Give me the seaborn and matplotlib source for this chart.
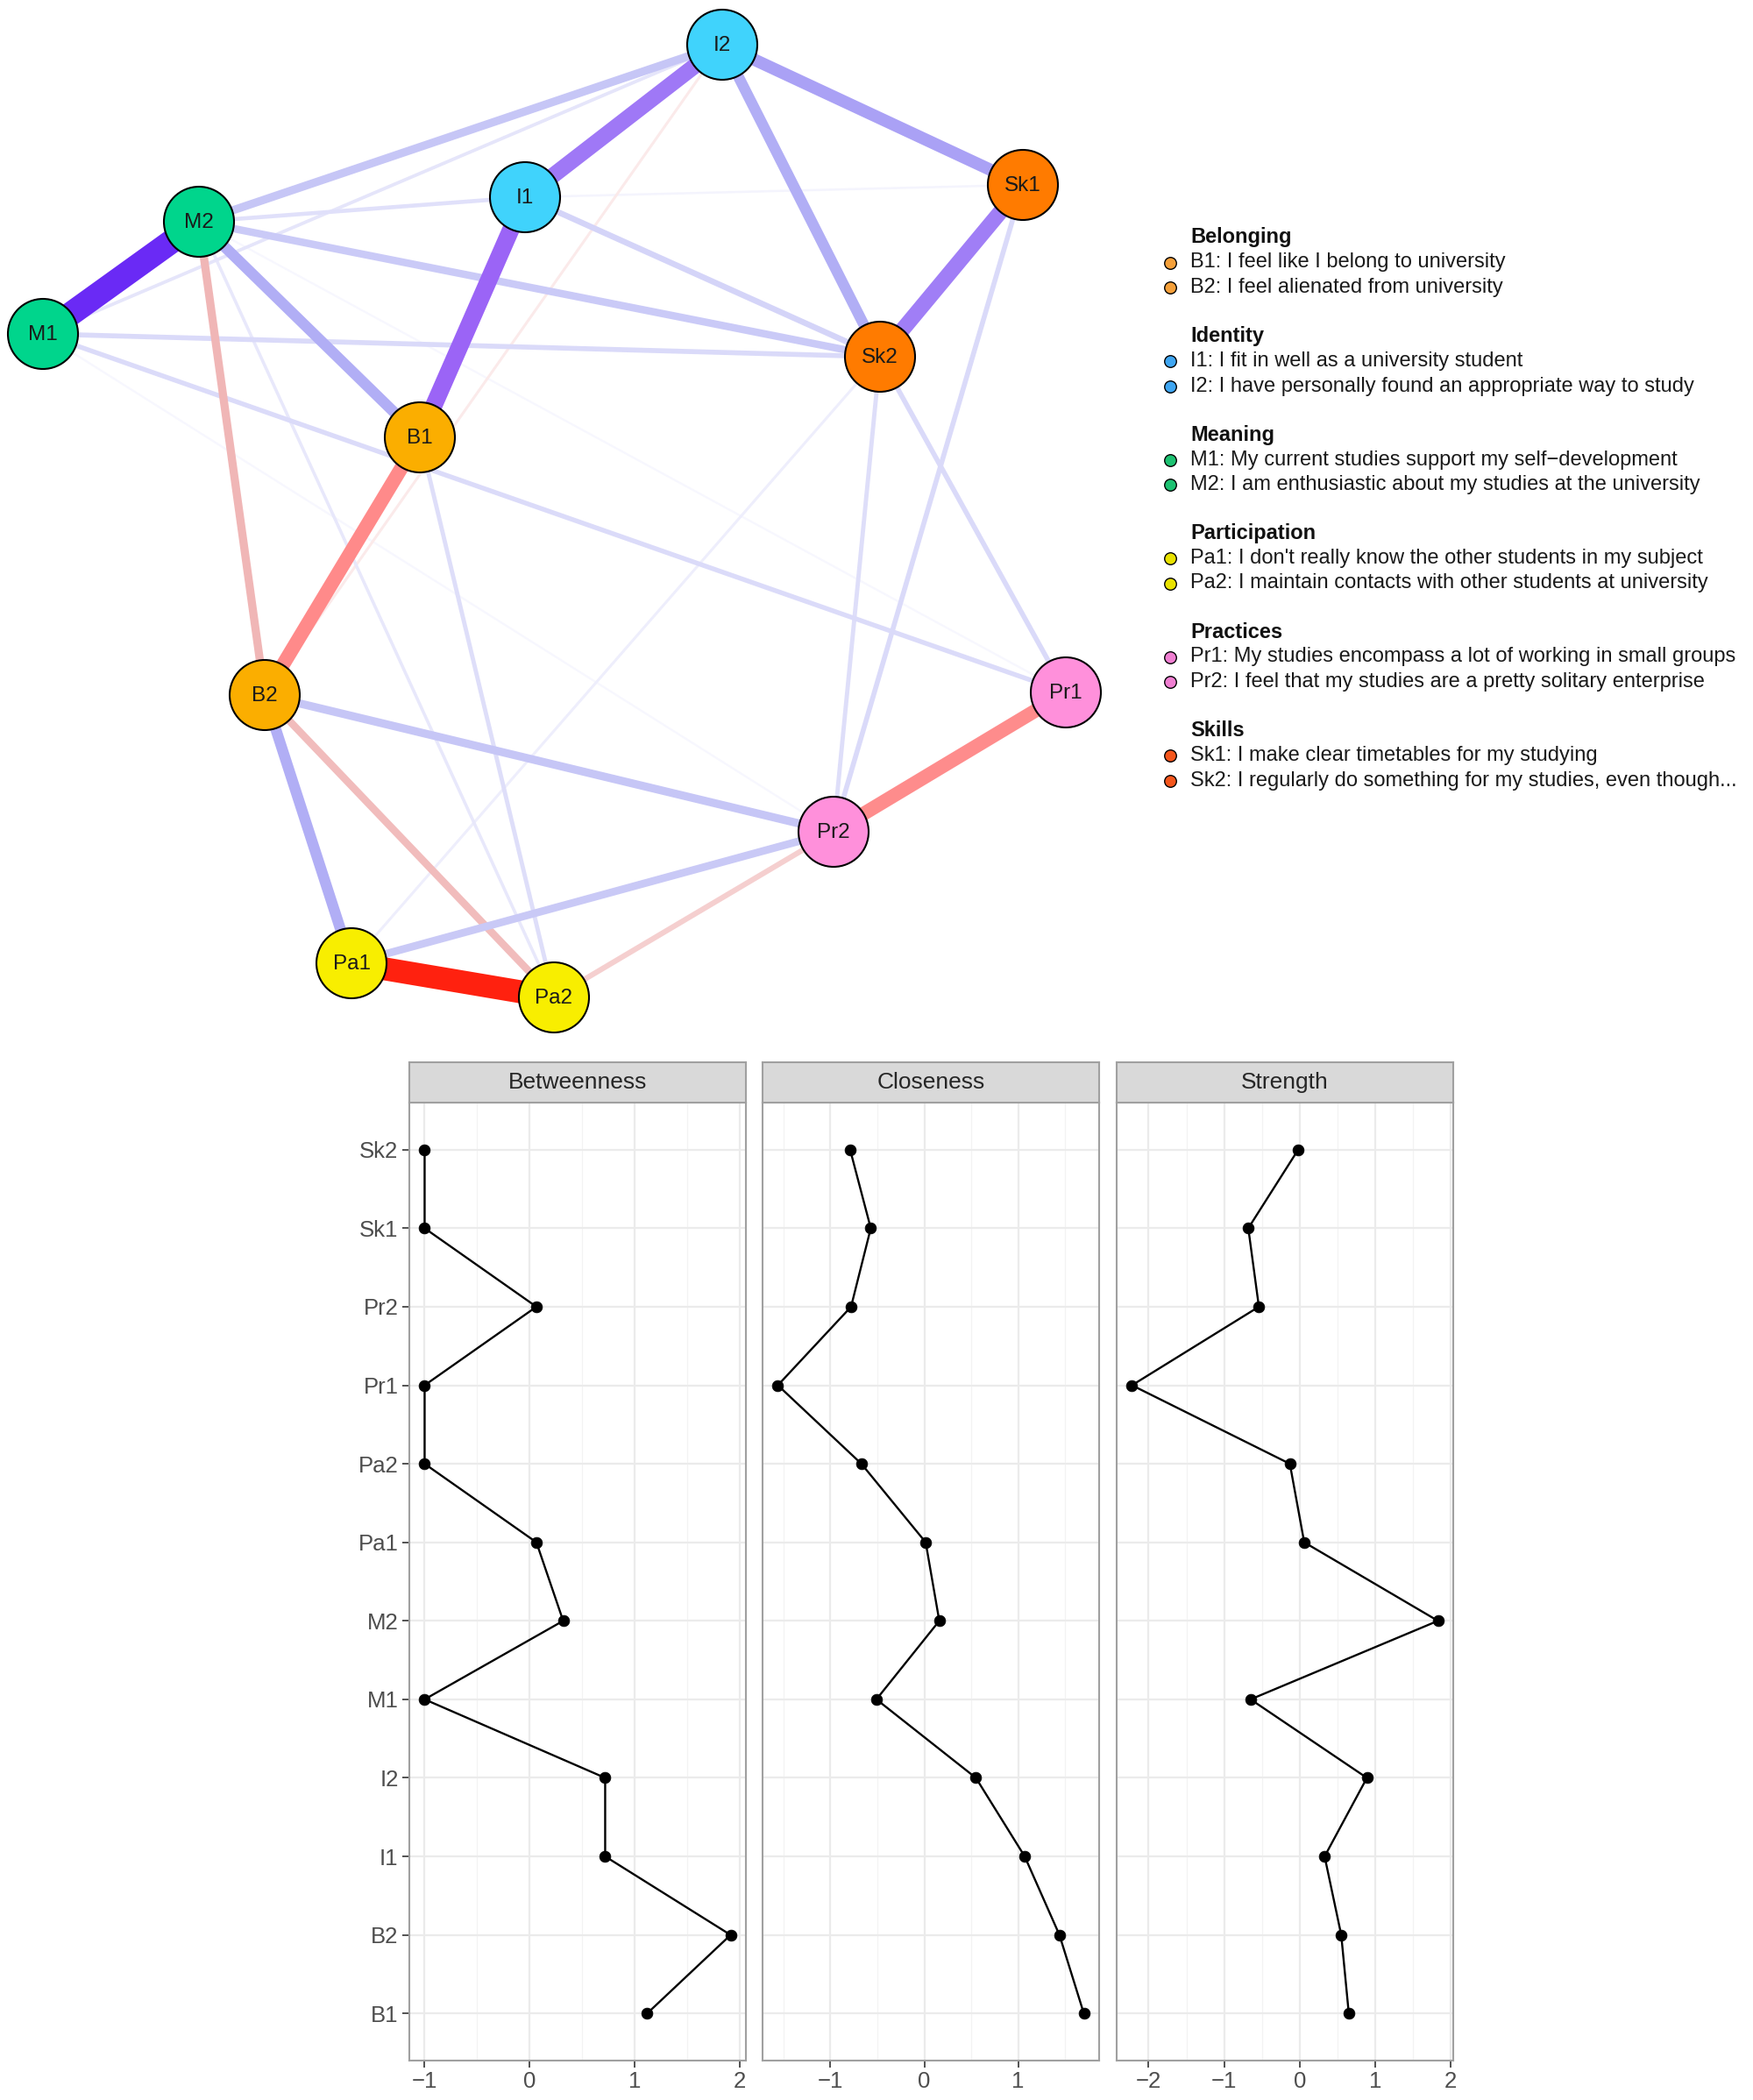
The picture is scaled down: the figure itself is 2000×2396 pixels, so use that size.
import numpy as np
import pandas as pd
import matplotlib
matplotlib.use('Agg')
import matplotlib.pyplot as plt
from matplotlib.colors import LinearSegmentedColormap
from matplotlib.patches import Circle
import seaborn as sns

# ---------------- data ----------------
nodes = ['B1', 'B2', 'I1', 'I2', 'M1', 'M2', 'Pa1', 'Pa2', 'Pr1', 'Pr2', 'Sk1', 'Sk2']
node_x = [479, 302, 599, 824, 49, 227, 401, 632, 1216, 951, 1167, 1004]
node_y = [499, 793, 225, 51, 381, 253, 1099, 1138, 790, 949, 211, 407]
node_group = ['Belonging', 'Belonging', 'Identity', 'Identity', 'Meaning', 'Meaning',
              'Participation', 'Participation', 'Practices', 'Practices', 'Skills', 'Skills']

edge_from = ['M1', 'Pa1', 'I1', 'I1', 'Sk1', 'B1', 'Pr1', 'I2', 'I2', 'M2', 'B2',
             'M2', 'B2', 'M2', 'Pa1', 'B2', 'M2', 'I1', 'Pa2', 'M1', 'M1', 'Sk1',
             'Sk2', 'Sk2', 'B1', 'M2', 'M1', 'M2', 'Sk2', 'I2', 'I1', 'M1', 'M2']
edge_to = ['M2', 'Pa2', 'B1', 'I2', 'Sk2', 'B2', 'Pr2', 'Sk1', 'Sk2', 'B1', 'Pa1',
           'B2', 'Pr2', 'I2', 'Pr2', 'Pa2', 'Sk2', 'Sk2', 'Pr2', 'Sk2', 'Pr1', 'Pr2',
           'Pr1', 'Pr2', 'Pa2', 'I1', 'I2', 'Pa2', 'Pa1', 'B2', 'Sk1', 'Pr2', 'Pr1']
edge_weight = [1.00, -0.95, 0.70, 0.64, 0.62, -0.56, -0.55, 0.48, 0.42, 0.42, 0.42,
               -0.30, 0.30, 0.30, 0.28, -0.27, 0.27, 0.20, -0.18, 0.16, 0.15, 0.16,
               0.16, 0.13, 0.13, 0.12, 0.09, 0.08, 0.06, -0.06, 0.04, 0.03, 0.03]

groups = ['Belonging', 'Identity', 'Meaning', 'Participation', 'Practices', 'Skills']
legend_items = [
    ['B1: I feel like I belong to university', 'B2: I feel alienated from university'],
    ['I1: I fit in well as a university student', 'I2: I have personally found an appropriate way to study'],
    ['M1: My current studies support my self\u2212development', 'M2: I am enthusiastic about my studies at the university'],
    ["Pa1: I don't really know the other students in my subject", 'Pa2: I maintain contacts with other students at university'],
    ['Pr1: My studies encompass a lot of working in small groups', 'Pr2: I feel that my studies are a pretty solitary enterprise'],
    ['Sk1: I make clear timetables for my studying', 'Sk2: I regularly do something for my studies, even though...'],
]

measures = ['Betweenness', 'Closeness', 'Strength']
centrality_nodes = ['B1', 'B2', 'I1', 'I2', 'M1', 'M2', 'Pa1', 'Pa2', 'Pr1', 'Pr2', 'Sk1', 'Sk2']
betweenness = [1.12, 1.915, 0.72, 0.72, -1.0, 0.32, 0.065, -1.0, -1.0, 0.065, -1.0, -1.0]
closeness = [1.70, 1.44, 1.07, 0.55, -0.51, 0.16, 0.015, -0.67, -1.56, -0.78, -0.57, -0.79]
strength = [0.65, 0.55, 0.33, 0.89, -0.65, 1.83, 0.06, -0.13, -2.22, -0.54, -0.68, -0.02]

# ---------------- style ----------------
sns.set_theme(style='white')
plt.rcParams['font.family'] = ['Liberation Sans', 'DejaVu Sans']

group_node_color = {'Belonging': '#FBAE00', 'Identity': '#40D3FC', 'Meaning': '#00D58C',
                    'Participation': '#F8EE00', 'Practices': '#FF90DB', 'Skills': '#FF7B00'}
group_legend_color = {'Belonging': '#F5A03A', 'Identity': '#3FA6F2', 'Meaning': '#1DC272',
                      'Participation': '#E9E200', 'Practices': '#F07FD2', 'Skills': '#F5561C'}

pos_cmap = LinearSegmentedColormap.from_list('pos', [
    (0.0, '#ffffff'), (0.1, '#e2e2fa'), (0.3, '#c6c6f6'), (0.45, '#aca8f5'),
    (0.62, '#a07ef6'), (0.72, '#9a5ef6'), (1.0, '#6a2af5')])
neg_cmap = LinearSegmentedColormap.from_list('neg', [
    (0.0, '#ffffff'), (0.08, '#f9e2e2'), (0.18, '#f5cfcf'), (0.3, '#f0b6b6'),
    (0.56, '#ff8a8a'), (1.0, '#ff1400')])

W, H = 2000, 2396
fig = plt.figure(figsize=(W / 100, H / 100), dpi=100)
fig.patch.set_facecolor('white')

# ---------------- network ----------------
net = fig.add_axes([0, 0, 1, 1])
net.set_xlim(0, W)
net.set_ylim(H, 0)
net.axis('off')
net.set_zorder(0)

pos = {n: (x, y) for n, x, y in zip(nodes, node_x, node_y)}
px2pt = 72 / 100
order = np.argsort(np.abs(edge_weight))
for i in order:
    a, b, w = edge_from[i], edge_to[i], edge_weight[i]
    (x1, y1), (x2, y2) = pos[a], pos[b]
    col = pos_cmap(abs(w)) if w > 0 else neg_cmap(abs(w))
    lw = (1.5 + 26 * abs(w)) * px2pt
    net.plot([x1, x2], [y1, y2], color=col, lw=lw, solid_capstyle='butt',
             zorder=1 + abs(w))

for n, x, y, g in zip(nodes, node_x, node_y, node_group):
    net.add_patch(Circle((x, y), 40, facecolor=group_node_color[g], edgecolor='black',
                         lw=1.5, zorder=10))
    net.text(x, y + 1, n, ha='center', va='center', fontsize=17.5, color='#1a1a1a', zorder=11)

# legend
ly = 271
for g, items in zip(groups, legend_items):
    net.text(1358, ly, g, ha='left', va='center', fontsize=17, fontweight='bold',
             color='#111111')
    for j, t in enumerate(items):
        yy = ly + 28.5 * (j + 1)
        net.scatter([1335], [yy], s=95, color=group_legend_color[g], edgecolor='black',
                    linewidth=1.0, zorder=5)
        net.text(1358, yy, t, ha='left', va='center', fontsize=17, color='#1a1a1a')
    ly += 112.5

# ---------------- centrality panels ----------------
panel_left = [467, 870, 1274]
panel_w = 384
strip_top, strip_bot, panel_bot = 1212, 1258, 2351
values = {'Betweenness': betweenness, 'Closeness': closeness, 'Strength': strength}
xticks = {'Betweenness': [-1, 0, 1, 2], 'Closeness': [-1, 0, 1], 'Strength': [-2, -1, 0, 1, 2]}

for k, m in enumerate(measures):
    x0 = panel_left[k] / W
    ax = fig.add_axes([x0, 1 - panel_bot / H, panel_w / W, (panel_bot - strip_bot) / H])
    ax.set_zorder(2)
    df = pd.DataFrame({'node': centrality_nodes, 'value': values[m],
                       'pos': np.arange(len(centrality_nodes))})
    vmin, vmax = df['value'].min(), df['value'].max()
    span = vmax - vmin
    lo, hi = vmin - 0.05 * span, vmax + 0.05 * span
    ticks = xticks[m]
    minors = [t + 0.5 for t in ticks] + [ticks[0] - 0.5]
    for t in minors:
        if lo < t < hi:
            ax.axvline(t, color='#f3f3f3', lw=0.9, zorder=0)
    for t in ticks:
        ax.axvline(t, color='#ebebeb', lw=1.6, zorder=0)
    for p in df['pos']:
        ax.axhline(p, color='#ebebeb', lw=1.6, zorder=0)

    sns.lineplot(data=df, x='value', y='pos', sort=False, estimator=None,
                 color='black', lw=1.7, ax=ax, zorder=2)
    sns.scatterplot(data=df, x='value', y='pos', color='black', s=85,
                    edgecolor='black', linewidth=0.5, ax=ax, zorder=3)
    ax.set_xlim(lo, hi)
    ax.set_ylim(-0.6, len(centrality_nodes) - 0.4)
    ax.set_xticks(ticks)
    ax.set_xticklabels([f'{t}'.replace('-', '\u2212') for t in ticks])
    ax.set_yticks(df['pos'])
    if k == 0:
        ax.set_yticklabels(df['node'])
    else:
        ax.set_yticklabels([])
        ax.tick_params(axis='y', length=0)
    ax.set_xlabel('')
    ax.set_ylabel('')
    ax.grid(False)
    ax.set_facecolor('white')
    ax.tick_params(axis='both', which='major', labelsize=18.5, labelcolor='#4d4d4d',
                   color='#333333', length=6, width=1.2, direction='out',
                   bottom=True, left=(k == 0), pad=3)
    for s in ax.spines.values():
        s.set_color('#a0a0a0')
        s.set_linewidth(1.5)

    sax = fig.add_axes([x0, 1 - strip_bot / H, panel_w / W, (strip_bot - strip_top) / H])
    sax.set_zorder(2)
    sax.set_facecolor('#d9d9d9')
    sax.set_xticks([])
    sax.set_yticks([])
    for s in sax.spines.values():
        s.set_color('#a0a0a0')
        s.set_linewidth(1.5)
    sax.text(0.5, 0.5, m, ha='center', va='center', fontsize=19, color='#262626',
             transform=sax.transAxes)

fig.savefig('out.png', dpi=100, facecolor='white')
